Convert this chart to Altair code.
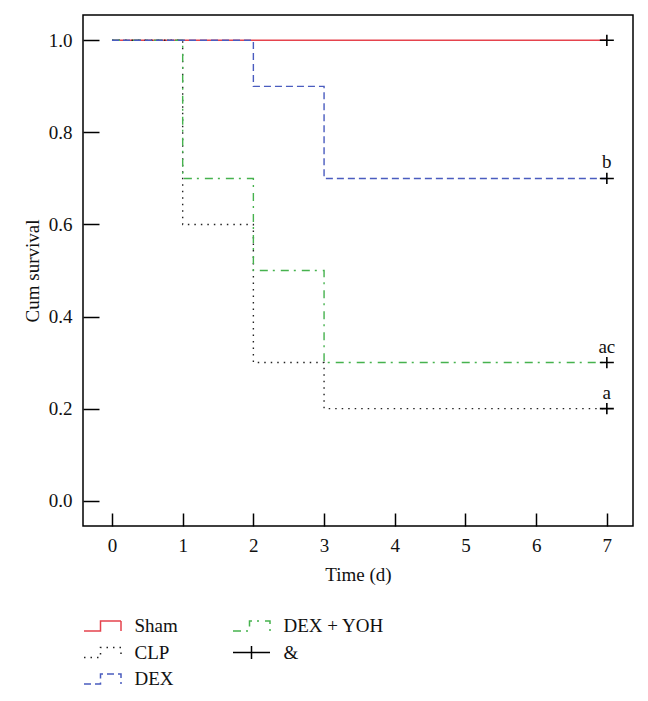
import altair as alt
import pandas as pd

# ---- data ----
groups = ["Sham", "CLP", "DEX + YOH", "DEX"]          # drawing order (DEX on top)
times = [0, 1, 2, 3, 7]
sham = [1.0, 1.0, 1.0, 1.0, 1.0]
clp = [1.0, 0.6, 0.3, 0.2, 0.2]
dex_yoh = [1.0, 0.7, 0.5, 0.3, 0.3]
dex = [1.0, 1.0, 0.9, 0.7, 0.7]

censor_time = [7, 7, 7, 7]
censor_surv = [1.0, 0.2, 0.7, 0.3]
censor_label = ["", "a", "b", "ac"]

legend_order = ["Sham", "CLP", "DEX", "DEX + YOH", "&"]
legend_colors = ["#e5434d", "#222222", "#4a5cbf", "#46b24e", "#000000"]
legend_dashes = [[1, 0], [1.5, 5], [7, 4], [8, 5, 2, 6], [1, 0]]
step_path = "M-1.85,0.5H-0.2V-0.5H1.85V0.5"
cross_legend = "M-1.85,0H1.85M0,-0.65V0.65"
legend_shapes = [step_path, step_path, step_path, step_path, cross_legend]

y_ticks = [0.0, 0.2, 0.4, 0.6, 0.8, 1.0]
x_ticks = [0, 1, 2, 3, 4, 5, 6, 7]

FONT = "Liberation Serif"
TXT = "#111111"

series = {"Sham": sham, "CLP": clp, "DEX + YOH": dex_yoh, "DEX": dex}
rows = []
for g in groups:
    for t, v in zip(times, series[g]):
        rows.append({"group": g, "time": t, "surv": v, "ord": groups.index(g)})
df = pd.DataFrame(rows)

cdf = pd.DataFrame({"time": censor_time, "surv": censor_surv, "label": censor_label})

xs = alt.Scale(domain=[-0.41, 7.37], nice=False, zero=False)
ys = alt.Scale(domain=[-0.055, 1.055], nice=False, zero=False)

leg = alt.Legend(
    title=None, orient="none", legendX=8.5, legendY=600, columns=2,
    columnPadding=51, rowPadding=5.5, padding=0,
    symbolSize=400, symbolStrokeWidth=1.5, symbolFillColor="transparent",
    symbolOpacity=1,
    labelFont=FONT, labelFontSize=19, labelColor=TXT, labelOffset=21,
    labelLimit=0,
)
color = alt.Color("group:N", scale=alt.Scale(domain=legend_order, range=legend_colors), legend=leg)
dash = alt.StrokeDash("group:N", scale=alt.Scale(domain=legend_order, range=legend_dashes), legend=leg)
shape = alt.Shape("group:N", scale=alt.Scale(domain=legend_order, range=legend_shapes), legend=leg)

x_enc = alt.X("time:Q", scale=xs, axis=alt.Axis(
    values=x_ticks, format="d", title="Time (d)", orient="bottom", offset=-13, tickSize=13,
    domain=False, grid=False, tickColor="black", tickWidth=1.5, labelPadding=10,
    labelFont=FONT, labelFontSize=19, labelColor=TXT, titleFont=FONT,
    titleFontSize=19, titleFontWeight="normal", titleColor=TXT, titlePadding=10))
y_enc = alt.Y("surv:Q", scale=ys, axis=alt.Axis(
    values=y_ticks, format=".1f", title="Cum survival", orient="left", offset=-16, tickSize=16,
    domain=False, grid=False, tickColor="black", tickWidth=1.5, labelPadding=11,
    labelFont=FONT, labelFontSize=19, labelColor=TXT, titleFont=FONT,
    titleFontSize=19, titleFontWeight="normal", titleColor=TXT, titlePadding=6))

lines = alt.Chart(df).mark_line(interpolate="step-after", strokeWidth=1.4).encode(
    x=x_enc, y=y_enc, color=color, strokeDash=dash, order="ord:Q",
    detail="group:N",
)

# layer with no rows that provides the shape channel for the merged legend
legend_layer = alt.Chart(df).transform_filter("false").mark_point(
    filled=False, opacity=1, strokeWidth=1.5
).encode(
    x="time:Q", y="surv:Q", color=color, strokeDash=dash, shape=shape,
)

marks = alt.Chart(cdf).mark_point(
    shape="M-1,0H1M0,-0.8V0.8", size=196, strokeWidth=1.6, color="black", filled=False, opacity=1
).encode(x="time:Q", y="surv:Q")

labels = alt.Chart(cdf).mark_text(
    font=FONT, fontSize=19, color=TXT, dy=-10, baseline="alphabetic", align="center"
).encode(x="time:Q", y="surv:Q", text="label:N")

chart = alt.layer(lines, legend_layer, marks, labels).properties(
    width=550, height=511,
    autosize=alt.AutoSizeParams(type="none"),
    padding={"left": 75, "top": 7, "right": 7, "bottom": 159},
    background="white",
).configure_view(stroke="black", strokeWidth=1.5)

chart.save("out.html", embed_options={"renderer": "svg", "actions": False})
